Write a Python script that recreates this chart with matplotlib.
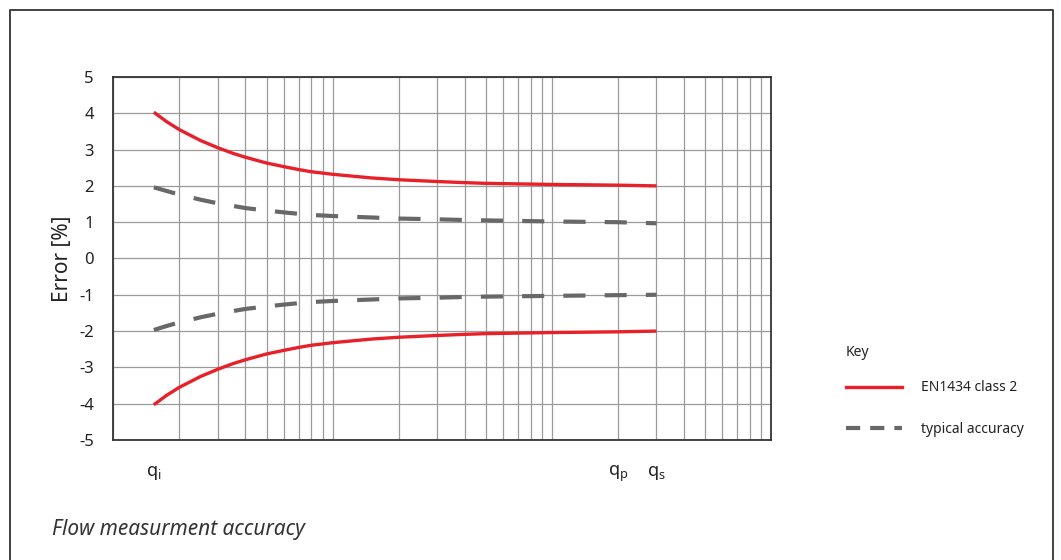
import matplotlib.pyplot as plt
from matplotlib.lines import Line2D

# flow values (log axis)
q = [1.53, 1.75, 2, 2.5, 3, 3.5, 4, 5, 6, 7, 8, 10, 15, 20, 30, 40, 50, 100, 200, 300]
class2_upper = [4.03, 3.77, 3.55, 3.25, 3.05, 2.90, 2.79, 2.63, 2.53, 2.45, 2.39, 2.32, 2.22, 2.17, 2.12, 2.09, 2.07, 2.04, 2.02, 2.0]
class2_lower = [-4.03, -3.77, -3.55, -3.25, -3.05, -2.90, -2.79, -2.63, -2.53, -2.45, -2.39, -2.32, -2.22, -2.17, -2.12, -2.09, -2.07, -2.04, -2.02, -2.0]
typical_upper = [1.96, 1.86, 1.76, 1.62, 1.52, 1.45, 1.39, 1.32, 1.27, 1.23, 1.20, 1.17, 1.13, 1.10, 1.08, 1.06, 1.05, 1.02, 1.0, 0.97]
typical_lower = [-1.97, -1.86, -1.76, -1.62, -1.52, -1.45, -1.39, -1.32, -1.27, -1.23, -1.20, -1.17, -1.13, -1.10, -1.08, -1.06, -1.05, -1.03, -1.01, -1.0]

q_ticks = [1.53, 200, 300]
q_labels = [r"$\mathregular{q_i}$", r"$\mathregular{q_p}$", r"$\mathregular{q_s}$"]
y_ticks = [5, 4, 3, 2, 1, 0, -1, -2, -3, -4, -5]

red = "#e8202a"
grey = "#686868"

plt.rcParams["font.family"] = ["Noto Sans", "DejaVu Sans"]
plt.rcParams["mathtext.fontset"] = "custom"
plt.rcParams["mathtext.rm"] = "Noto Sans"

fig = plt.figure(figsize=(10.61, 5.6), dpi=100)
ax = fig.add_axes([0.1068, 0.2143, 0.620, 0.6482])

ax.plot(q, class2_upper, color=red, lw=2.4, solid_capstyle="butt", solid_joinstyle="round")
ax.plot(q, class2_lower, color=red, lw=2.4, solid_capstyle="butt", solid_joinstyle="round")
ax.plot(q, typical_upper, color=grey, lw=3, dashes=(5.3, 4.6), dash_capstyle="butt")
ax.plot(q, typical_lower, color=grey, lw=3, dashes=(5.3, 4.6), dash_capstyle="butt")

ax.set_xscale("log")
ax.set_xlim(1, 1000)
ax.set_ylim(-5, 5)
ax.set_yticks(y_ticks)
ax.set_yticklabels([str(v) for v in y_ticks])
ax.set_xticks(q_ticks)
ax.set_xticklabels(q_labels)
ax.xaxis.set_minor_locator(plt.NullLocator())
ax.tick_params(axis="both", length=0, labelsize=12, colors="#222222")
ax.tick_params(axis="y", pad=14)
ax.tick_params(axis="x", pad=17, labelsize=13)

# grid lines at every log position and every integer error
for d in [1, 10, 100]:
    for k in range(1, 10):
        ax.axvline(d * k, color="#9a9a9a", lw=0.9, zorder=0)
for v in y_ticks:
    ax.axhline(v, color="#9a9a9a", lw=0.9, zorder=0)

for s in ax.spines.values():
    s.set_color("#333333")
    s.set_linewidth(1.3)

ax.set_ylabel("Error [%]", fontsize=15, labelpad=4, color="#222222")

handles = [Line2D([], [], color=red, lw=2.4),
           Line2D([], [], color=grey, lw=3, dashes=(3.4, 2.4))]
leg = fig.legend(handles, ["EN1434 class 2", "typical accuracy"],
                 loc="upper left", bbox_to_anchor=(0.786, 0.343), frameon=False,
                 fontsize=10, handlelength=4.0,
                 handletextpad=1.4, labelspacing=1.9)
for t in leg.get_texts():
    t.set_color("#222222")
fig.text(0.797, 0.370, "Key", fontsize=10, color="#222222", va="center")

fig.text(0.049, 0.045, "Flow measurment accuracy", fontsize=15, style="italic", color="#333333")

# outer frame (left, top and right sides)
frame = Line2D([10 / 1061, 10 / 1061, 1053 / 1061, 1053 / 1061],
               [0, 1 - 10 / 560, 1 - 10 / 560, 0],
               transform=fig.transFigure, color="#333333", lw=1.3)
fig.add_artist(frame)

fig.savefig("out.png", dpi=100)
